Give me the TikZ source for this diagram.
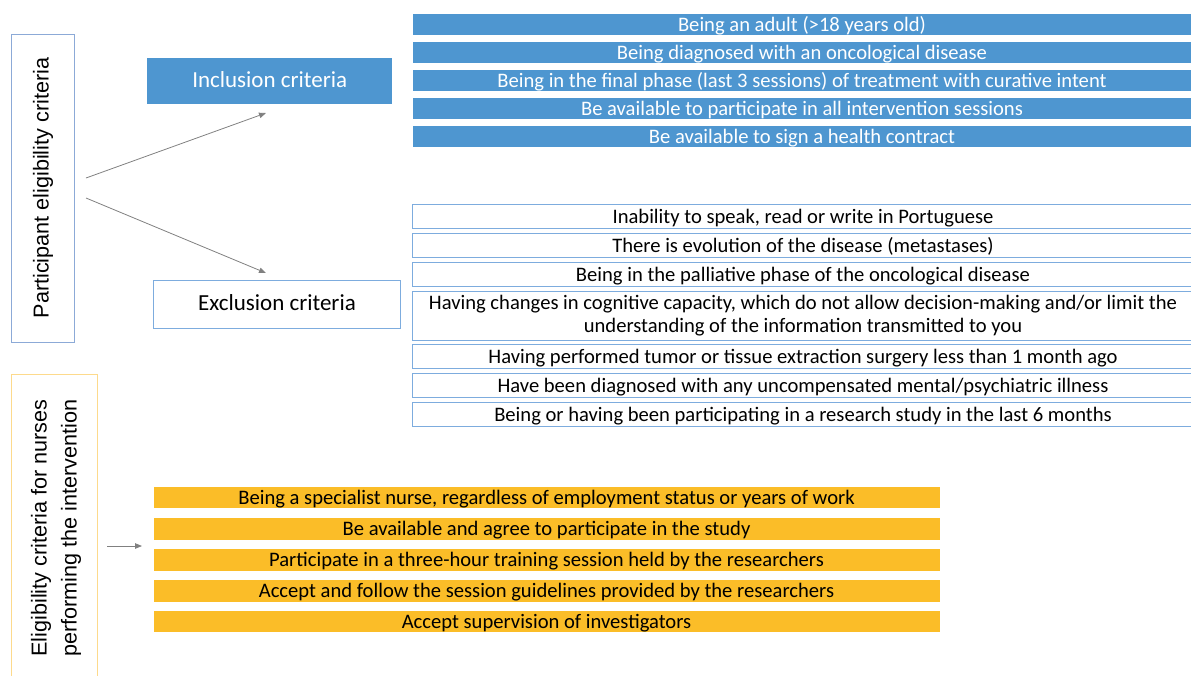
\documentclass[tikz,border=0pt]{standalone}
\usepackage{fontspec}
\setmainfont{Carlito}
\newfontfamily\sidefont{Liberation Sans}
\usetikzlibrary{arrows.meta}
\definecolor{incblue}{RGB}{78,150,208}
\definecolor{excline}{RGB}{125,172,222}
\definecolor{partline}{RGB}{140,170,215}
\definecolor{nurseyel}{RGB}{251,189,40}
\definecolor{nurseline}{RGB}{253,218,140}
\definecolor{arrgray}{RGB}{128,128,128}
\tikzset{
  barbase/.style={anchor=north west, inner sep=0pt, outer sep=0pt, align=center,
    font=\fontsize{20.6}{23}\selectfont},
  incbar/.style={barbase, fill=incblue, draw=white, line width=0.6pt, text=white, minimum width=780pt},
  excbar/.style={barbase, fill=white, draw=excline, line width=1pt, text=black, minimum width=782pt},
  nursebar/.style={barbase, fill=nurseyel, draw=white, line width=0.6pt, text=black, minimum width=787pt},
  oneline/.style={text height=15pt, text depth=1pt},
  headbox/.style={anchor=north west, inner sep=0pt, font=\fontsize{23}{27}\selectfont,
    text height=15pt, text depth=3pt},
  sidelabel/.style={rotate=90, align=center, font=\sidefont\fontsize{21.6}{30}\selectfont},
  conn/.style={draw=arrgray, line width=0.8pt, -{Triangle[length=7pt,width=5.5pt]}}
}
\begin{document}
\begin{tikzpicture}[x=1pt,y=-1pt]
\useasboundingbox (0,0) rectangle (1191,675);

% side frames
\node[draw=partline, line width=1pt, anchor=north west, inner sep=0pt,
      minimum width=63pt, minimum height=308pt] (pbox) at (11,34) {};
\node[sidelabel] (plabel) at (43,188) {Participant eligibility criteria};

\node[draw=nurseline, line width=1pt, anchor=north west, inner sep=0pt,
      minimum width=86pt, minimum height=330pt] (nbox) at (11,374) {};
\node[sidelabel] (nlabel) at (56,528) {Eligibility criteria for nurses\\performing the intervention};

% heads
\node[headbox, fill=incblue, text=white, minimum width=245pt, minimum height=46pt] (inc) at (147,58) {Inclusion criteria};
\node[headbox, draw=excline, line width=1pt, fill=white, text=black, minimum width=247pt, minimum height=48pt] (exc) at (153,280) {Exclusion criteria};

% arrows
\coordinate (s1) at (86,178);
\coordinate (e1) at (266,113);
\coordinate (s2) at (86,198);
\coordinate (e2) at (266,273);
\coordinate (s3) at (107,546);
\coordinate (e3) at (142,546);
\draw[conn] (s1) -- (e1);
\draw[conn] (s2) -- (e2);
\draw[conn] (s3) -- (e3);

% inclusion bars
\node[incbar, oneline, minimum height=22pt] (i1) at (412,13) {Being an adult (>18 years old)};
\node[incbar, oneline, minimum height=22pt] (i2) at (412,41) {Being diagnosed with an oncological disease};
\node[incbar, oneline, minimum height=22pt] (i3) at (412,69) {Being in the final phase (last 3 sessions) of treatment with curative intent};
\node[incbar, oneline, minimum height=22pt] (i4) at (412,97) {Be available to participate in all intervention sessions};
\node[incbar, oneline, minimum height=22pt] (i5) at (412,125) {Be available to sign a health contract};

% exclusion bars
\node[excbar, oneline, minimum height=24pt] (x1) at (412,204) {Inability to speak, read or write in Portuguese};
\node[excbar, oneline, minimum height=24pt] (x2) at (412,233) {There is evolution of the disease (metastases)};
\node[excbar, oneline, minimum height=24pt] (x3) at (412,262) {Being in the palliative phase of the oncological disease};
\node[excbar, minimum height=49pt] (x4) at (412,291) {Having changes in cognitive capacity, which do not allow decision-making and/or limit the\\understanding of the information transmitted to you};
\node[excbar, oneline, minimum height=24pt] (x5) at (412,344) {Having performed tumor or tissue extraction surgery less than 1 month ago};
\node[excbar, oneline, minimum height=24pt] (x6) at (412,373) {Have been diagnosed with any uncompensated mental/psychiatric illness};
\node[excbar, oneline, minimum height=24pt] (x7) at (412,402) {Being or having been participating in a research study in the last 6 months};

% nurse bars
\node[nursebar, oneline, minimum height=22pt] (n1) at (153,486) {Being a specialist nurse, regardless of employment status or years of work};
\node[nursebar, oneline, minimum height=23pt] (n2) at (153,517) {Be available and agree to participate in the study};
\node[nursebar, oneline, minimum height=23pt] (n3) at (153,548) {Participate in a three-hour training session held by the researchers};
\node[nursebar, oneline, minimum height=23pt] (n4) at (153,579) {Accept and follow the session guidelines provided by the researchers};
\node[nursebar, oneline, minimum height=22pt] (n5) at (153,610) {Accept supervision of investigators};
\end{tikzpicture}
\end{document}
